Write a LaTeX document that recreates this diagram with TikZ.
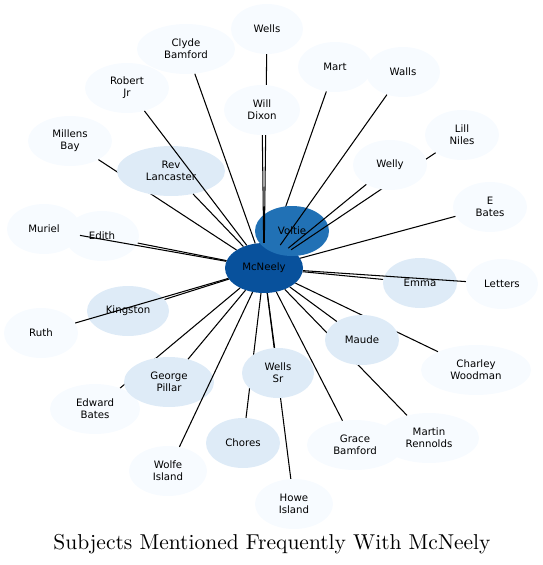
\documentclass[tikz,border=0pt]{standalone}
\usepackage{fontspec}
\newfontfamily\nodefont{DejaVu Sans}
\newfontfamily\titlefont{lmroman10-regular.otf}
\usetikzlibrary{shapes.geometric}
\definecolor{bA}{HTML}{F7FBFF}
\definecolor{bB}{HTML}{DEEBF7}
\definecolor{bG}{HTML}{2171B5}
\definecolor{bH}{HTML}{08519C}
\tikzset{
  subj/.style={ellipse, inner sep=0pt, minimum height=50pt, align=center,
    font=\nodefont\fontsize{10.2}{12}\selectfont, text=black},
  lite/.style={subj, fill=bA},
  mid/.style={subj, fill=bB},
  edge/.style={draw=black, line width=1.05pt}
}
\begin{document}
\begin{tikzpicture}[x=1pt,y=-1pt]
\useasboundingbox (0,0) rectangle (543,565);
% --- first layer of nodes
\node[subj, fill=bH, minimum width=78pt] (mcneely) at (264,268) {McNeely};
\node[lite, minimum width=72pt] (wells) at (267,29) {Wells};
\node[lite, minimum width=98pt] (clyde) at (186,49) {Clyde\\Bamford};
\node[lite, minimum width=84pt] (robert) at (127,88) {Robert\\Jr};
\node[lite, minimum width=84pt] (millens) at (70,141) {Millens\\Bay};
\node[lite, minimum width=74pt] (mart) at (335,67) {Mart};
\node[lite, minimum width=74pt] (walls) at (403,72) {Walls};
\node[lite, minimum width=74pt] (lill) at (462,135) {Lill\\Niles};
\node[lite, minimum width=74pt] (ebates) at (490,207) {E\\Bates};
\node[lite, minimum width=74pt] (muriel) at (44,229) {Muriel};
\node[lite, minimum width=74pt] (edith) at (102,236) {Edith};
\node[lite, minimum width=74pt] (ruth) at (41,333) {Ruth};
\node[mid, minimum width=82pt] (kingston) at (128,311) {Kingston};
\node[mid, minimum width=74pt] (emma) at (420,283) {Emma};
\node[lite, minimum width=72pt] (letters) at (502,284) {Letters};
\node[lite, minimum width=110pt] (charley) at (476,370) {Charley\\Woodman};
\node[lite, minimum width=90pt] (edward) at (95,409) {Edward\\Bates};
\node[lite, minimum width=78pt] (wolfe) at (168,471) {Wolfe\\Island};
\node[mid, minimum width=74pt] (chores) at (243,443) {Chores};
\node[lite, minimum width=96pt] (grace) at (355,445) {Grace\\Bamford};
\node[lite, minimum width=100pt] (martin) at (429,438) {Martin\\Rennolds};
\node[lite, minimum width=78pt] (howe) at (294,504) {Howe\\Island};
% --- edges hidden under later nodes
\draw[edge] (mcneely) -- (mart);
\draw[edge] (mcneely) -- (millens);
\draw[edge] (mcneely) -- (edward);
\draw[edge] (mcneely) -- (chores);
\draw[edge] (mcneely) -- (howe);
\draw[edge] (mcneely) -- (martin);
\draw[edge] (mcneely) -- (charley);
% --- Voltie
\node[subj, fill=bG, minimum width=74pt] (voltie) at (292,231) {Voltie};
\draw[edge] (mcneely) -- (wells);
\draw[edge] (mcneely) -- (lill);
% --- second layer of nodes
\node[mid, minimum width=108pt] (rev) at (171,171) {Rev\\Lancaster};
\node[lite, minimum width=76pt] (willdixon) at (262,110) {Will\\Dixon};
\node[lite, minimum width=74pt] (welly) at (390,165) {Welly};
\node[mid, minimum width=90pt] (george) at (169,382) {George\\Pillar};
\node[mid, minimum width=72pt] (wellssr) at (278,373) {Wells\\Sr};
\node[mid, minimum width=74pt] (maude) at (362,340) {Maude};
% --- edges on top
\draw[edge] (mcneely) -- (walls);
\draw[edge] (mcneely) -- (welly);
\draw[edge] (mcneely) -- (willdixon);
\draw[edge] (mcneely) -- (robert);
\draw[edge] (mcneely) -- (clyde);
\draw[edge] (mcneely) -- (rev);
\draw[edge] (mcneely) -- (muriel);
\draw[edge] (mcneely) -- (edith);
\draw[edge] (mcneely) -- (ruth);
\draw[edge] (mcneely) -- (kingston);
\draw[edge] (mcneely) -- (emma);
\draw[edge] (mcneely) -- (letters);
\draw[edge] (mcneely) -- (ebates);
\draw[edge] (mcneely) -- (maude);
\draw[edge] (mcneely) -- (george);
\draw[edge] (mcneely) -- (wellssr);
\draw[edge] (mcneely) -- (wolfe);
\draw[edge] (mcneely) -- (grace);
% --- title
\node[anchor=base, inner sep=0pt, font=\titlefont\fontsize{21.5}{26}\selectfont] (title) at (272,549) {Subjects Mentioned Frequently With McNeely};
\end{tikzpicture}
\end{document}
